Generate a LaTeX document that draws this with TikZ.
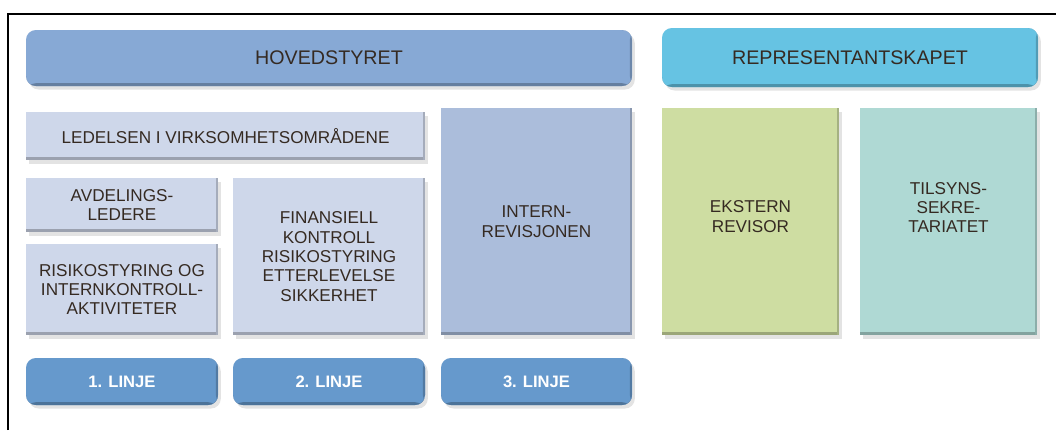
\documentclass[tikz,border=0pt]{standalone}
\usepackage{fontspec}
\setmainfont{Liberation Sans}
\usetikzlibrary{shadows}

\definecolor{hovedblue}{HTML}{87A9D5}
\definecolor{reprblue}{HTML}{66C3E3}
\definecolor{lightblue}{HTML}{CED7EA}
\definecolor{internblue}{HTML}{ABBDDB}
\definecolor{eksterngreen}{HTML}{CEDDA2}
\definecolor{tilsynteal}{HTML}{AFD9D4}
\definecolor{linjeblue}{HTML}{6699CC}
\definecolor{textbrown}{HTML}{352a22}

\tikzset{
  wh/.style 2 args={minimum width=#1*0.025cm, minimum height=#2*0.025cm},
  box/.style={fill=#1, inner sep=0pt, align=center, text=textbrown,
    font=\fontsize{12.2}{13.8}\selectfont,
    drop shadow={opacity=0.22, shadow xshift=2pt, shadow yshift=-2.5pt},
    path picture={\fill[#1!75!black]
      (path picture bounding box.south west) rectangle
      ([yshift=2pt]path picture bounding box.south east);
      \fill[#1!80!black]
      ([xshift=-1.5pt]path picture bounding box.south east) rectangle
      (path picture bounding box.north east);}},
  head/.style={box=#1, rounded corners=7pt, font=\fontsize{14}{16}\selectfont},
  linje/.style={box=linjeblue, rounded corners=7pt, text=white,
    font=\fontsize{11.8}{13}\selectfont\bfseries}
}

\begin{document}
\begin{tikzpicture}[x=0.025cm, y=-0.025cm]
\useasboundingbox (0,0) rectangle (1056,430);
% frame
\draw[line width=1.3pt] (8,430) -- (8,14) -- (1056,14);

% top row
\node[head=hovedblue, wh={606}{56}] (hoved) at (329,58) {HOVEDSTYRET};
\node[head=reprblue, wh={376}{59}] (repr) at (850,57.5) {REPRESENTANTSKAPET};

% first and second line
\node[box=lightblue, wh={399}{48}] (ledelse) at (225.5,136) {LEDELSEN I VIRKSOMHETSOMRÅDENE};
\node[box=lightblue, wh={192}{54}] (avdeling) at (122,205) {AVDELINGS-\\LEDERE};
\node[box=lightblue, wh={192}{91}] (risiko) at (122,289.5) {RISIKOSTYRING OG\\INTERNKONTROLL-\\AKTIVITETER};
\node[box=lightblue, wh={192}{157}] (finans) at (329,256.5) {FINANSIELL\\KONTROLL\\RISIKOSTYRING\\ETTERLEVELSE\\SIKKERHET};

% third line and external (text sits a bit above the middle)
\node[box=internblue, wh={191}{227}] (intern) at (536.5,221.5) {INTERN-\\REVISJONEN};
\node[box=eksterngreen, wh={177}{227}, text depth=7pt] (ekstern) at (750.5,221.5) {EKSTERN\\REVISOR};
\node[box=tilsynteal, wh={177}{227}, text depth=20pt] (tilsyn) at (948.5,221.5) {TILSYNS-\\SEKRE-\\TARIATET};

% line labels
\node[linje, wh={192}{47}] (linje1) at (122,381.5) {1. LINJE};
\node[linje, wh={192}{47}] (linje2) at (329,381.5) {2. LINJE};
\node[linje, wh={191}{47}] (linje3) at (536.5,381.5) {3. LINJE};
\end{tikzpicture}
\end{document}
